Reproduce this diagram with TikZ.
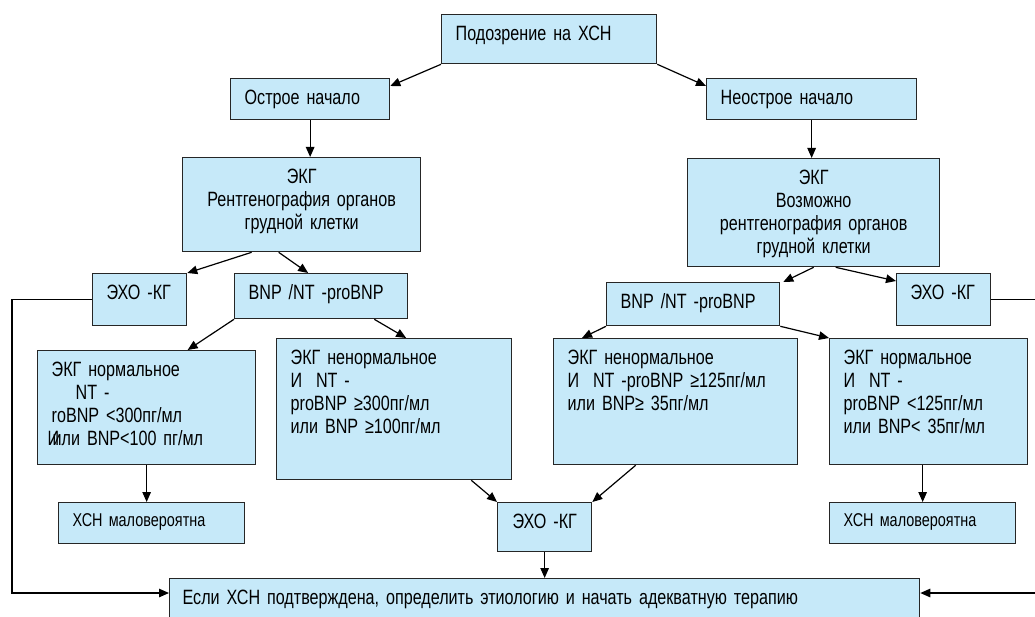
\documentclass[tikz,border=0pt]{standalone}
\usepackage{fontspec}
\setmainfont{Liberation Sans}[FakeStretch=0.78]
\usetikzlibrary{arrows.meta}
\definecolor{boxblue}{RGB}{198,233,249}
\begin{document}
\begin{tikzpicture}[x=1pt,y=-1pt,
    box/.style={draw=black!85, fill=boxblue, line width=1.3pt, anchor=north west,
      inner xsep=14pt, inner ysep=0pt, align=left, text height=26pt,
      font=\fontsize{20.7}{23}\selectfont},
    smallbox/.style={box, text height=24pt, font=\fontsize{18.5}{21}\selectfont},
    arr/.style={-{Triangle[length=10pt,width=8.5pt]}, line width=1.2pt}]
  \clip (0,0) rectangle (1035,617);
  % boxes
  \node[box, text width=187pt, text depth=23pt] (susp) at (441,14) {Подозрение на ХСН};
  \node[box, text width=131pt, text depth=15pt] (acute) at (230,78) {Острое начало};
  \node[box, text width=182pt, text depth=15pt] (nonac) at (706,78) {Неострое начало};
  \node[box, text width=210pt, text depth=68pt, align=center] (ekgL) at (182,157)
    {ЭКГ\\Рентгенография органов\\грудной клетки};
  \node[box, text width=224pt, text depth=82pt, align=center] (ekgR) at (687,158)
    {ЭКГ\\Возможно\\рентгенография органов\\грудной клетки};
  \node[box, text width=66pt, text depth=26pt] (echoL) at (92,273) {\mbox{ЭХО -КГ}};
  \node[box, text width=145pt, text depth=19pt] (bnpL) at (234,273) {\mbox{BNP /NT -proBNP}};
  \node[box, text width=145pt, text depth=17pt] (bnpR) at (606,282) {\mbox{BNP /NT -proBNP}};
  \node[box, text width=66pt, text depth=26pt] (echoR) at (896,273) {\mbox{ЭХО -КГ}};
  \node[box, text width=190pt, text depth=88pt] (normL) at (37,350)
    {ЭКГ нормальное\\\hspace*{24pt}NT -\\roBNP <300пг/мл\\
     \hspace*{-4pt}\rlap{И}\hspace{5pt}или BNP<100 пг/мл};
  \node[box, text width=207pt, text depth=115pt] (abnL) at (276,338)
    {ЭКГ ненормальное\\И~~NT -\\proBNP ≥300пг/мл\\или BNP ≥100пг/мл};
  \node[box, text width=216pt, text depth=100pt] (abnR) at (553,338)
    {ЭКГ ненормальное\\\mbox{И~~NT -proBNP ≥125пг/мл}\\или BNP≥ 35пг/мл};
  \node[box, text width=170pt, text depth=100pt] (normR) at (829,338)
    {ЭКГ нормальное\\И~~NT -\\proBNP <125пг/мл\\или BNP< 35пг/мл};
  \node[smallbox, text width=158pt, text depth=17pt] (lowL) at (58,502) {ХСН маловероятна};
  \node[box, inner xsep=15pt, text width=64pt, text depth=23pt] (echoC) at (497,502) {\mbox{ЭХО -КГ}};
  \node[smallbox, text width=158pt, text depth=17pt] (lowR) at (829,502) {ХСН маловероятна};
  \node[box, inner xsep=13pt, text width=724pt, text depth=24pt] (res) at (169,578)
    {Если ХСН подтверждена, определить этиологию и начать адекватную терапию};
  \coordinate (lc) at (12,593);
  \coordinate (rc) at (1037,593);
  % connectors
  \draw[arr] (susp.south west) -- ([yshift=-8pt]acute.north east);
  \draw[arr] (susp.south east) -- ([yshift=-8pt]nonac.north west);
  \draw[arr] (acute.south) -- (acute.south |- ekgL.north);
  \draw[arr] (nonac.south) -- (nonac.south |- ekgR.north);
  \draw[arr] ([xshift=-50pt]ekgL.south) -- (echoL.north east);
  \draw[arr] ([xshift=-23pt]ekgL.south) -- ([xshift=-13pt]bnpL.north);
  \draw[arr] (bnpL.south west) -- ([xshift=41pt]normL.north);
  \draw[arr] ([xshift=-34pt]bnpL.south east) -- ([xshift=12pt]abnL.north);
  \draw[arr] (ekgR.south) -- ([xshift=3pt]bnpR.north east);
  \draw[arr] ([xshift=22pt]ekgR.south) -- ([yshift=-8pt]echoR.north west);
  \draw[arr] (bnpR.south west) -- ([xshift=29pt]abnR.north west);
  \draw[arr] (bnpR.south east) -- (normR.north west);
  \draw[arr] (normL.south) -- (normL.south |- lowL.north);
  \draw[arr] (lowR.north |- normR.south) -- (lowR.north);
  \draw[arr] ([xshift=-41pt]abnL.south east) -- (echoC.north west);
  \draw[arr] ([xshift=-40pt]abnR.south) -- (echoC.north east);
  \draw[arr] (echoC.south) -- (echoC.south |- res.north);
  \draw[arr] (echoL.west) -| (lc) -- (lc -| res.west);
  \draw[arr] (echoR.east) -| (rc) -- (rc -| res.east);
\end{tikzpicture}
\end{document}
